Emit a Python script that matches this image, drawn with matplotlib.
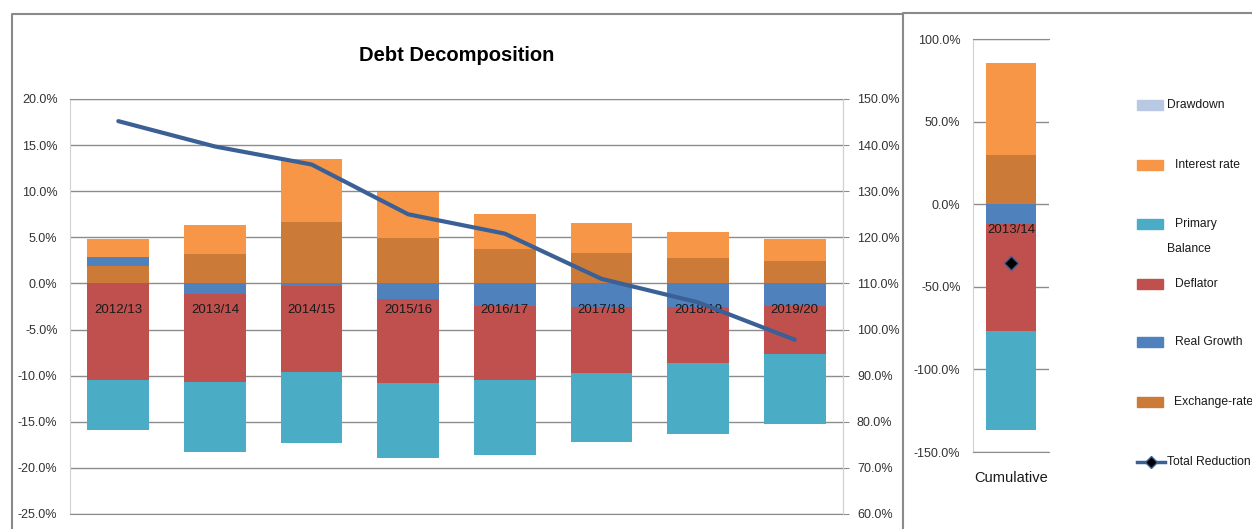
import matplotlib.pyplot as plt
import numpy as np
from matplotlib.lines import Line2D
from matplotlib.patches import Rectangle

plt.rcParams['font.family'] = ['Liberation Sans', 'DejaVu Sans']

years = ["2012/13", "2013/14", "2014/15", "2015/16", "2016/17", "2017/18", "2018/19", "2019/20"]
exchange_rate = [1.88, 3.14, 6.68, 4.91, 3.76, 3.25, 2.71, 2.42]
real_growth = [0.94, -1.19, -0.29, -1.73, -2.46, -2.56, -2.56, -2.46]
deflator = [-10.51, -9.54, -9.32, -9.10, -8.05, -7.15, -6.11, -5.16]
primary_balance = [-5.38, -7.54, -7.72, -8.06, -8.09, -7.52, -7.62, -7.62]
interest_rate = [1.95, 3.22, 6.83, 4.99, 3.82, 3.32, 2.92, 2.35]
drawdown = [0, 0, 0, 0, 0, 0, 0, 0]
total_debt = [145.2, 139.7, 135.8, 125.0, 120.8, 111.0, 105.9, 97.8]

cum_label = "2013/14"
cum_exchange = 29.7
cum_real_growth = -11.7
cum_deflator = -65.2
cum_primary = -59.9
cum_interest = 55.9
cum_drawdown = 0
cum_total = -35.3

c_exch = "#CC7A38"
c_rg = "#4F81BD"
c_defl = "#C0504D"
c_prim = "#4BACC6"
c_int = "#F79646"
c_draw = "#B9C9E4"
c_line = "#3B6096"
grid_c = "#8C8C8C"
spine_c = "#D0D0D0"
txt_c = "#333333"

fig = plt.figure(figsize=(12.52, 5.29), dpi=100)


def stack(ax, x, series, width):
    pos = np.zeros(len(x))
    neg = np.zeros(len(x))
    for vals, col in series:
        v = np.asarray(vals, dtype=float)
        b = np.where(v >= 0, pos, neg)
        ax.bar(x, v, width, bottom=b, color=col, zorder=2)
        pos += np.where(v >= 0, v, 0)
        neg += np.where(v < 0, v, 0)


# main panel
ax = fig.add_axes([70 / 1252, 15 / 529, 773 / 1252, 415 / 529])
x = np.arange(len(years))
stack(ax, x, [(exchange_rate, c_exch), (real_growth, c_rg), (deflator, c_defl),
              (primary_balance, c_prim), (interest_rate, c_int), (drawdown, c_draw)], 0.64)
for i, y in enumerate(years):
    ax.text(i, -2.85, y, ha="center", va="center", fontsize=9.5, color="#1a1a1a", zorder=4)
ax.set_xlim(-0.5, len(years) - 0.5)
ax.set_ylim(-25, 20)
ax.set_yticks(np.arange(-25, 21, 5))
ax.set_yticklabels([f"{v:.1f}%" for v in np.arange(-25, 21, 5)], fontsize=9, color=txt_c)
ax.set_xticks([])
ax.grid(axis="y", color=grid_c, lw=1, zorder=0)
ax.tick_params(axis="y", length=0, pad=9)
for s in ["top", "bottom"]:
    ax.spines[s].set_color(grid_c)
ax.spines["left"].set_color(spine_c)
ax.spines["right"].set_color(spine_c)
ax.set_title("Debt Decomposition", fontsize=14.5, fontweight="bold", pad=27)

ax2 = ax.twinx()
ax2.plot(x, total_debt, color=c_line, lw=3, zorder=3, solid_capstyle="round")
ax2.set_ylim(60, 150)
ax2.set_yticks(np.arange(60, 151, 10))
ax2.set_yticklabels([f"{v:.1f}%" for v in np.arange(60, 151, 10)], fontsize=9, color=txt_c)
ax2.tick_params(axis="y", length=4, color=grid_c, pad=6)
for s in ["top", "bottom", "left"]:
    ax2.spines[s].set_visible(False)
ax2.spines["right"].set_color(spine_c)

# cumulative panel
axc = fig.add_axes([973 / 1252, 77 / 529, 76 / 1252, 413 / 529])
stack(axc, [0], [([cum_exchange], c_exch), ([cum_real_growth], c_rg), ([cum_deflator], c_defl),
                 ([cum_primary], c_prim), ([cum_interest], c_int), ([cum_drawdown], c_draw)], 0.645)
axc.plot([0], [cum_total], marker="D", ms=7, color="black", mec=c_line, mew=1, zorder=4)
axc.text(0, -15.7, cum_label, ha="center", va="center", fontsize=9.5, color="#1a1a1a", zorder=4)
axc.set_xlim(-0.5, 0.5)
axc.set_ylim(-150, 100)
axc.set_yticks(np.arange(-150, 101, 50))
axc.set_yticklabels([f"{v:.1f}%" for v in np.arange(-150, 101, 50)], fontsize=9, color=txt_c)
axc.set_xticks([0])
axc.set_xticklabels(["Cumulative"], fontsize=10.5, color="#1a1a1a")
axc.tick_params(axis="y", length=0, pad=9)
axc.tick_params(axis="x", length=0, pad=14)
axc.grid(axis="y", color=grid_c, lw=1, zorder=0)
axc.spines["right"].set_visible(False)
axc.spines["top"].set_color(grid_c)
axc.spines["bottom"].set_color(grid_c)
axc.spines["left"].set_color(spine_c)

# legend drawn by hand
H = 529
legend_items = [("Drawdown", c_draw, 105, 1167),
                ("Interest rate", c_int, 165, 1175),
                ("Primary", c_prim, 224, 1175),
                ("Deflator", c_defl, 284, 1175),
                ("Real Growth", c_rg, 342, 1175),
                ("Exchange-rate", c_exch, 402, 1174)]
for label, col, yy, tx in legend_items:
    fig.patches.append(Rectangle((1137 / 1252, (H - yy - 5) / H), 26 / 1252, 10 / H,
                                 transform=fig.transFigure, color=col))
    fig.text(tx / 1252, (H - yy) / H, label, fontsize=8.7, va="center", color="#1a1a1a")
fig.text(1167 / 1252, (H - 249) / H, "Balance", fontsize=8.7, va="center", color="#1a1a1a")
fig.lines.append(Line2D([1137 / 1252, 1165 / 1252], [(H - 462) / H] * 2, transform=fig.transFigure,
                        color=c_line, lw=2.5))
fig.lines.append(Line2D([1151 / 1252], [(H - 462) / H], transform=fig.transFigure, marker="D",
                        ms=6, color="black", mec=c_line))
fig.text(1167 / 1252, (H - 462) / H, "Total Reduction", fontsize=8.7, va="center", color="#1a1a1a")

# panel borders
bc = "#8A8A8A"
fig.lines.append(Line2D([12 / 1252, 12 / 1252, 903 / 1252], [0, (H - 14) / H, (H - 14) / H],
                        transform=fig.transFigure, color=bc, lw=1.5))
fig.lines.append(Line2D([903 / 1252, 903 / 1252, 1], [0, (H - 13) / H, (H - 13) / H],
                        transform=fig.transFigure, color=bc, lw=1.5))

fig.savefig("out.png", dpi=100)
